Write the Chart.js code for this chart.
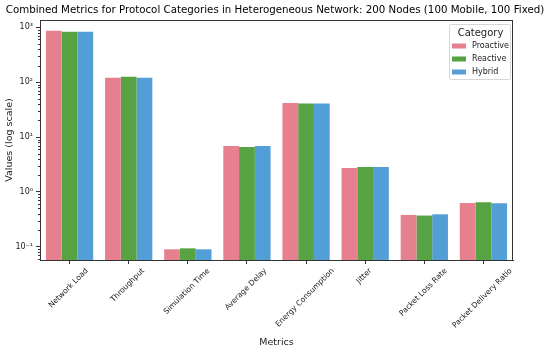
<!DOCTYPE html>
<html>
<head>
<meta charset="utf-8">
<script src="https://cdn.jsdelivr.net/npm/chart.js@4.4.1/dist/chart.umd.min.js"></script>
<style>
  html, body { margin: 0; padding: 0; background: #fff; }
  #wrap { width: 550px; height: 351px; }
</style>
</head>
<body>
<div id="wrap"><canvas id="myChart"></canvas></div>
<script>
// data
const metrics = ['Network Load', 'Throughput', 'Simulation Time', 'Average Delay',
    'Energy Consumption', 'Jitter', 'Packet Loss Rate', 'Packet Delivery Ratio'];
const proactive = [867, 120, 0.0897, 6.86, 41.5, 2.73, 0.38, 0.63];
const reactive  = [832, 125, 0.0935, 6.58, 41.0, 2.85, 0.37, 0.65];
const hybrid    = [832, 120, 0.0897, 6.86, 40.8, 2.85, 0.39, 0.62];
const categories = ['Proactive', 'Reactive', 'Hybrid'];
const yMajorTicks = [0.1, 1, 10, 100, 1000];
const yTickLabels = ['10⁻¹', '10⁰', '10¹', '10²', '10³'];
const chartTitle = 'Combined Metrics for Protocol Categories in Heterogeneous Network: 200 Nodes (100 Mobile, 100 Fixed)';

const colors = ['#e6808f', '#57a242', '#529fd7'];
const FONT = 'DejaVu Sans';
const TEXT = '#222';

// minor ticks at 2..9 x each decade, inside the axis range
const yMin = 0.0573, yMax = 1358;
const yMinorTicks = [];
for (let d = -2; d <= 3; d++) {
    for (let m = 2; m <= 9; m++) {
        const v = m * Math.pow(10, d);
        if (v > yMin && v < yMax) yMinorTicks.push(v);
    }
}

const extras = {
    id: 'extras',
    afterDraw(chart) {
        const ctx = chart.ctx;
        const a = chart.chartArea;
        const x = chart.scales.x;
        const y = chart.scales.y;
        ctx.save();

        // title, centred on the canvas and sized to the reference width
        ctx.font = '11px ' + FONT;
        const tw = ctx.measureText(chartTitle).width;
        const ts = Math.min(11, 11 * 539 / tw);
        ctx.font = ts + 'px ' + FONT;
        ctx.fillStyle = '#000';
        ctx.textAlign = 'center';
        ctx.textBaseline = 'middle';
        ctx.fillText(chartTitle, chart.width / 2, 10);

        // full box frame
        ctx.strokeStyle = '#333';
        ctx.lineWidth = 1;
        ctx.strokeRect(a.left + 0.5, a.top + 0.5, a.right - a.left - 1, a.bottom - a.top);

        // minor y ticks
        ctx.beginPath();
        yMinorTicks.forEach(v => {
            const py = Math.round(y.getPixelForValue(v)) + 0.5;
            ctx.moveTo(a.left - 2, py);
            ctx.lineTo(a.left, py);
        });
        ctx.stroke();

        // x tick labels, rotated 45 and centred on the tick like matplotlib
        const fs = 7.6;
        ctx.font = fs + 'px ' + FONT;
        ctx.fillStyle = TEXT;
        const c = Math.SQRT1_2;
        metrics.forEach((label, i) => {
            const px = x.getPixelForTick(i);
            const w = ctx.measureText(label).width;
            const bh = (w + fs) * c;
            ctx.save();
            ctx.translate(px - 1, a.bottom + 7 + bh / 2);
            ctx.rotate(-Math.PI / 4);
            ctx.fillText(label, 0, 0);
            ctx.restore();
        });

        // legend box
        const lw = 61, lh = 55;
        const lx = a.right - 64, ly = a.top + 4;
        ctx.fillStyle = 'rgba(255,255,255,0.85)';
        ctx.strokeStyle = '#d6d6d6';
        ctx.beginPath();
        ctx.roundRect(lx + 0.5, ly + 0.5, lw, lh, 2);
        ctx.fill();
        ctx.stroke();
        ctx.fillStyle = TEXT;
        ctx.font = '10px ' + FONT;
        ctx.textAlign = 'center';
        ctx.fillText('Category', lx + lw / 2 + 1, ly + 9);
        ctx.font = '8px ' + FONT;
        ctx.textAlign = 'left';
        chart.data.datasets.forEach((ds, i) => {
            const iy = ly + 22 + i * 13;
            ctx.fillStyle = ds.backgroundColor;
            ctx.fillRect(lx + 3, iy - 2.5, 14, 5);
            ctx.fillStyle = TEXT;
            ctx.fillText(ds.label, lx + 23, iy);
        });

        ctx.restore();
    }
};

const ctx1 = document.getElementById('myChart').getContext('2d');
const myChart = new Chart(ctx1, {
    type: 'bar',
    data: {
        labels: metrics,
        datasets: [
            { label: categories[0], data: proactive, backgroundColor: colors[0] },
            { label: categories[1], data: reactive, backgroundColor: colors[1] },
            { label: categories[2], data: hybrid, backgroundColor: colors[2] }
        ]
    },
    options: {
        responsive: true,
        maintainAspectRatio: false,
        animation: false,
        layout: { padding: { left: 0, right: 37, top: 20, bottom: 0 } },
        datasets: {
            bar: { categoryPercentage: 0.8, barPercentage: 1.0, borderWidth: 0 }
        },
        plugins: {
            legend: { display: false },
            tooltip: { enabled: false },
            title: { display: false }
        },
        scales: {
            x: {
                grid: { display: true, drawOnChartArea: false, offset: false, tickLength: 4, color: '#333' },
                border: { display: true, color: '#333' },
                ticks: { display: false },
                title: {
                    display: true,
                    text: 'Metrics',
                    color: TEXT,
                    font: { family: FONT, size: 9.5 },
                    padding: { top: 0, bottom: 3 }
                },
                afterFit(scale) { scale.height = 91; }
            },
            y: {
                type: 'logarithmic',
                min: yMin,
                max: yMax,
                grid: { display: true, drawOnChartArea: false, tickLength: 4, color: '#333' },
                border: { display: true, color: '#333' },
                afterBuildTicks(scale) {
                    scale.ticks = yMajorTicks.map(v => ({ value: v }));
                },
                ticks: {
                    color: TEXT,
                    padding: 3,
                    font: { family: FONT, size: 8 },
                    callback: (value) => {
                        const i = yMajorTicks.indexOf(value);
                        return i >= 0 ? yTickLabels[i] : '';
                    }
                },
                title: {
                    display: true,
                    text: 'Values (log scale)',
                    color: TEXT,
                    font: { family: FONT, size: 9.5 },
                    padding: { top: 4, bottom: 0 }
                },
                afterFit(scale) { scale.width = 40; }
            }
        }
    },
    plugins: [extras]
});
</script>
</body>
</html>
